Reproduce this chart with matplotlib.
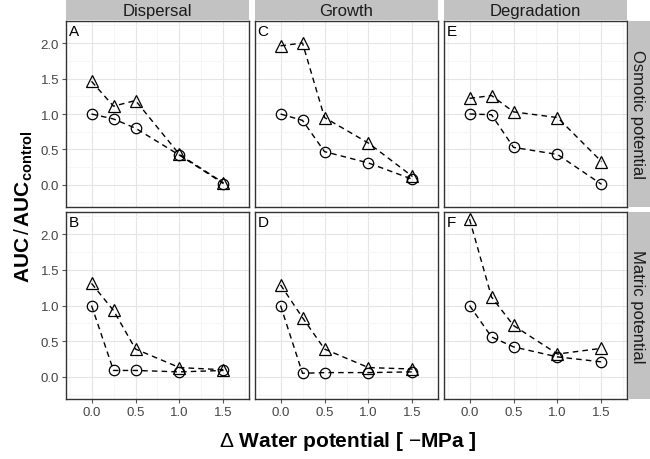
import matplotlib
matplotlib.use("Agg")
import matplotlib.pyplot as plt
from matplotlib.ticker import MultipleLocator

# ── Data ───────────────────────────────────────────────────────────────────────

water_potential = [0.0, 0.25, 0.5, 1.0, 1.5]
processes = ["Dispersal", "Growth", "Degradation"]
potentials = ["Osmotic potential", "Matric potential"]
panel_letters = [["A", "C", "E"], ["B", "D", "F"]]

# triangles / circles per panel (row = potential type, col = process)
osmotic_tri = [
    [1.46, 1.11, 1.19, 0.43, 0.03],   # Dispersal
    [1.96, 2.00, 0.95, 0.59, 0.12],   # Growth
    [1.22, 1.26, 1.03, 0.95, 0.33],   # Degradation
]
osmotic_circ = [
    [1.00, 0.93, 0.80, 0.42, 0.02],
    [1.00, 0.91, 0.47, 0.31, 0.08],
    [1.00, 0.99, 0.53, 0.43, 0.01],
]
matric_tri = [
    [1.31, 0.93, 0.39, 0.13, 0.10],
    [1.29, 0.83, 0.39, 0.13, 0.11],
    [2.21, 1.12, 0.72, 0.32, 0.40],
]
matric_circ = [
    [1.00, 0.09, 0.09, 0.07, 0.09],
    [1.00, 0.05, 0.06, 0.06, 0.07],
    [1.00, 0.56, 0.42, 0.28, 0.21],
]

x_ticks = [0.0, 0.5, 1.0, 1.5]
y_ticks = [0.0, 0.5, 1.0, 1.5, 2.0]

# ── Style ──────────────────────────────────────────────────────────────────────

plt.rcParams["font.family"] = ["Liberation Sans", "DejaVu Sans"]
plt.rcParams["mathtext.fontset"] = "custom"
plt.rcParams["mathtext.rm"] = "Liberation Sans"
plt.rcParams["mathtext.bf"] = "Liberation Sans:bold"
plt.rcParams["mathtext.it"] = "Liberation Sans:italic"

W, H = 650, 460
col_x = [(66, 249), (255, 438), (444, 627)]
row_y = [(22, 208), (213, 400)]
STRIP = "#C2C2C2"
BORDER = "#333333"


def px_axes(fig, x0, x1, y0, y1):
    return fig.add_axes([x0 / W, 1 - y1 / H, (x1 - x0) / W, (y1 - y0) / H])


fig = plt.figure(figsize=(6.5, 4.6), dpi=100)

series = [(osmotic_tri, osmotic_circ), (matric_tri, matric_circ)]

for r, (tri, circ) in enumerate(series):
    for c in range(3):
        x0, x1 = col_x[c]
        y0, y1 = row_y[r]
        ax = px_axes(fig, x0, x1, y0, y1)
        ax.set_xlim(-0.29, 1.79)
        ax.set_ylim(-0.31, 2.31)
        ax.xaxis.set_major_locator(MultipleLocator(0.5))
        ax.xaxis.set_minor_locator(MultipleLocator(0.25))
        ax.yaxis.set_major_locator(MultipleLocator(0.5))
        ax.yaxis.set_minor_locator(MultipleLocator(0.25))
        ax.grid(which="major", color="#E5E5E5", lw=0.8)
        ax.grid(which="minor", color="#F5F5F5", lw=0.6)
        ax.set_axisbelow(True)
        for s in ax.spines.values():
            s.set_color(BORDER)
            s.set_linewidth(1.0)
        ax.tick_params(which="minor", length=0)
        ax.tick_params(which="major", length=3, color="#555555",
                       labelsize=9.5, labelcolor="#444444", pad=2)
        if c == 0:
            ax.set_yticks(y_ticks)
            ax.set_yticklabels([f"{v:.1f}" for v in y_ticks])
        else:
            ax.tick_params(axis="y", which="both", left=False, labelleft=False)
        if r == 1:
            ax.set_xticks(x_ticks)
            ax.set_xticklabels([f"{v:.1f}" for v in x_ticks])
        else:
            ax.tick_params(axis="x", which="both", bottom=False, labelbottom=False)

        ax.plot(water_potential, tri[c], ls=(0, (4, 3)), color="black", lw=1.0,
                marker="^", ms=9, mfc="none", mec="black", mew=0.9)
        ax.plot(water_potential, circ[c], ls=(0, (4, 3)), color="black", lw=1.0,
                marker="o", ms=7.5, mfc="none", mec="black", mew=0.9)

        ax.text(0.015, 0.985, panel_letters[r][c], transform=ax.transAxes,
                ha="left", va="top", fontsize=11)

        # top strips
        if r == 0:
            sax = px_axes(fig, x0, x1, 0, 21)
            sax.set_facecolor(STRIP)
            sax.set_xticks([]); sax.set_yticks([])
            for s in sax.spines.values():
                s.set_visible(False)
            sax.text(0.5, 0.45, processes[c], ha="center", va="center",
                     fontsize=12, color="#1A1A1A", transform=sax.transAxes)

    # right strips
    y0, y1 = row_y[r]
    rax = px_axes(fig, 628, 650, y0, y1)
    rax.set_facecolor(STRIP)
    rax.set_xticks([]); rax.set_yticks([])
    for s in rax.spines.values():
        s.set_visible(False)
    rax.text(0.45, 0.5, potentials[r], ha="center", va="center", rotation=-90,
             fontsize=12, color="#1A1A1A", transform=rax.transAxes)

fig.text(348 / W, 1 - 442 / H, r"$\Delta$ Water potential [ $-$MPa ]",
         ha="center", va="center", fontsize=15, fontweight="bold")
fig.text(24 / W, 1 - 207 / H,
         r"$\mathbf{AUC}\,/\,\mathbf{AUC}_{\mathbf{control}}$",
         ha="center", va="center", fontsize=15, rotation=90)

fig.savefig("out.png", dpi=100)
